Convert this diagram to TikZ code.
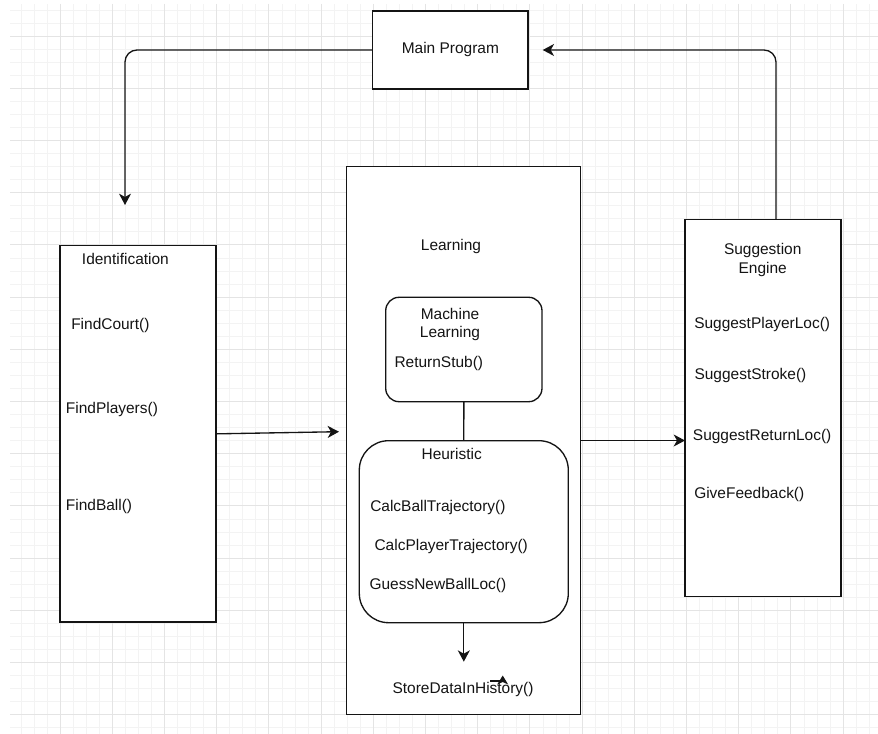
\documentclass[tikz,border=0pt]{standalone}
\usepackage{fontspec}
\setmainfont{Liberation Sans}
\usepackage{tikz}
\usetikzlibrary{arrows.meta, positioning, calc}
\definecolor{gridminor}{RGB}{243,243,243}
\definecolor{gridmajor}{RGB}{228,228,228}
\definecolor{ink}{RGB}{20,20,20}
\tikzset{
  diagfont/.style={font=\fontsize{11.6}{13.7}\selectfont, text=ink},
  block/.style={draw=ink, line width=1pt, fill=white, inner sep=0pt, outer sep=0pt, diagfont},
  softblock/.style={block, rounded corners=#1},
  fntext/.style={inner sep=0pt, diagfont, anchor=west},
  link/.style={draw=ink, line width=1pt, -{Stealth[length=8.5pt,width=9pt,inset=2.5pt]}}
}

\begin{document}
\begin{tikzpicture}[x=0.75pt, y=-0.75pt]
  \useasboundingbox (0,0) rectangle (878,734);
  % background grid
  \foreach \gx in {20.85,33.9,...,878} \draw[gridminor, line width=0.5pt] (\gx,4) -- (\gx,734);
  \foreach \gy in {9.9,22.95,...,734} \draw[gridminor, line width=0.5pt] (10,\gy) -- (878,\gy);
  \foreach \gx in {59.95,112.15,...,878} \draw[gridmajor, line width=0.5pt] (\gx,4) -- (\gx,734);
  \foreach \gy in {36,88.2,...,734} \draw[gridmajor, line width=0.5pt] (10,\gy) -- (878,\gy);

  \node[block, minimum width=116.5pt, minimum height=58.5pt] (main) at (450.35,50) {Main Program};
  \node[block, minimum width=117pt, minimum height=282.2pt] (ident) at (138,433.85) {};
  \node[block, minimum width=175.5pt, minimum height=410.7pt] (learn) at (463.7,440.5) {};
  \node[softblock=10pt, minimum width=117.2pt, minimum height=78.3pt] (ml) at (463.85,349.5) {};
  \node[softblock=22pt, minimum width=156.75pt, minimum height=136.5pt] (heur) at (463.8,531.7) {};
  \node[block, minimum width=117pt, minimum height=283pt] (sugg) at (763,408) {};

  % titles
  \node[fntext] (identTitle) at (81.7,259) {Identification};
  \node[inner sep=0pt, diagfont] (learnTitle) at (451,246.7) {Learning};
  \node[inner sep=0pt, diagfont, align=center] (mlTitle) at (450,324.2) {Machine\\Learning};
  \node[inner sep=0pt, diagfont] (heurTitle) at (451.7,454) {Heuristic};
  \node[inner sep=0pt, diagfont, align=center] (suggTitle) at (762.7,260) {Suggestion\\Engine};

  % methods
  \foreach \fname/\px/\py [count=\i] in {FindCourt()/71/325, FindPlayers()/65.7/410, FindBall()/65.7/506.7}
    \node[fntext] (identItem\i) at (\px,\py) {\fname};
  \node[fntext] (mlItem) at (394.3,363.3) {ReturnStub()};
  \foreach \fname/\px/\py [count=\i] in {CalcBallTrajectory()/370/507, CalcPlayerTrajectory()/374.3/546, GuessNewBallLoc()/369.3/585}
    \node[fntext] (heurItem\i) at (\px,\py) {\fname};
  \node[fntext] (store) at (392.3,689.3) {StoreDataInHistory()};
  \foreach \fname/\px/\py [count=\i] in {SuggestPlayerLoc()/694/325, SuggestStroke()/694.3/375.7, SuggestReturnLoc()/692.7/436, GiveFeedback()/694/494}
    \node[fntext] (suggItem\i) at (\px,\py) {\fname};

  \coordinate (identIn) at (125,205);
  \coordinate (suggTop) at (776,219.3);
  \coordinate (mainIn) at (542.7,50);
  \coordinate (learnIn) at (339,431.7);
  \coordinate (storeIn) at (463.8,661.7);
  \coordinate (stubTip) at (502.7,675.5);
  \coordinate (stubLeft) at (490,681);

  \draw[link, rounded corners=9pt] (main.west) -- (identIn |- main.west) -- (identIn);
  \draw[link, rounded corners=9pt] (suggTop) -- (suggTop |- mainIn) -- (mainIn);
  \draw[link] (ident.east) -- (learnIn);
  \draw[link] (learn.east) -- (learn.east -| sugg.west);
  \draw[draw=ink, line width=1pt] (ml.south) -- (heur.north);
  \draw[link] (heur.south) -- (storeIn);
  \draw[draw=ink, line width=1pt] (stubLeft) -- (stubLeft -| stubTip);
  \fill[ink] (stubTip) -- ++(-5.5,9) -- ++(5.5,-2.5) -- ++(5.5,2.5) -- cycle;
\end{tikzpicture}
\end{document}
